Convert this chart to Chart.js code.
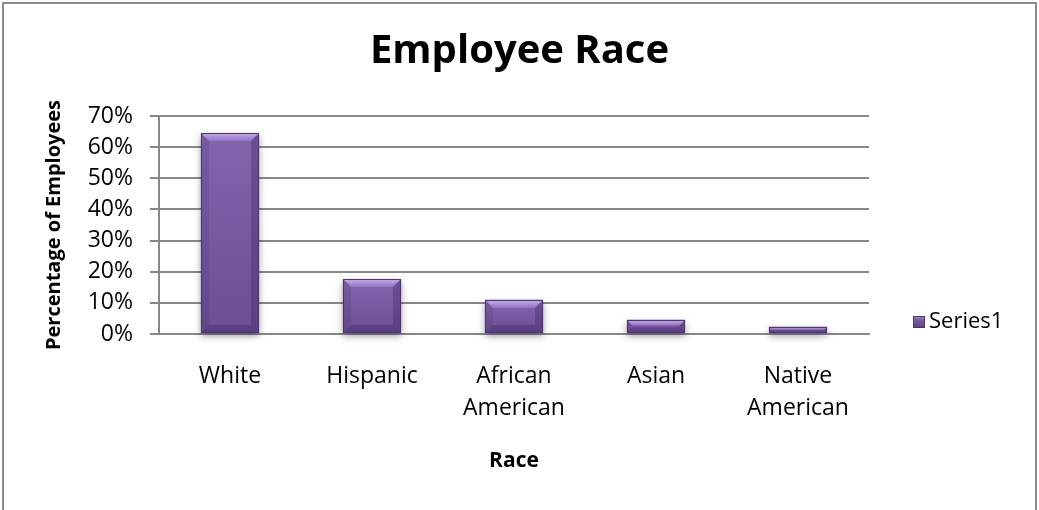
<!DOCTYPE html>
<html>
<head>
<meta charset="utf-8">
<title>Employee Race</title>
<script src="https://cdn.jsdelivr.net/npm/chart.js@4.4.1/dist/chart.umd.min.js"></script>
<style>
  html, body { margin: 0; padding: 0; background: #ffffff; }
  #wrap { width: 1039px; height: 510px; position: relative; }
</style>
</head>
<body>
<div id="wrap"><canvas id="chart" width="1039" height="510"></canvas></div>
<script>
// Share of employees by race, in percent
const categories = ['White', 'Hispanic', ['African', 'American'], 'Asian', ['Native', 'American']];
const series1 = [64.4, 17.7, 11.0, 4.6, 2.3];
const seriesLabel = 'Series1';
const yTickValues = [0, 10, 20, 30, 40, 50, 60, 70];

const FONT = "'Open Sans', 'DejaVu Sans', sans-serif";
const GRID = '#888888';

function poly(ctx, pts, fill) {
  ctx.beginPath();
  ctx.moveTo(pts[0][0], pts[0][1]);
  for (let i = 1; i < pts.length; i++) ctx.lineTo(pts[i][0], pts[i][1]);
  ctx.closePath();
  ctx.fillStyle = fill;
  ctx.fill();
}

// Purple bar with a bevelled rim and soft drop shadow
function bevelBar(ctx, l, t, r, b, withShadow) {
  const w = r - l, h = b - t;
  if (h <= 0 || w <= 0) return;
  const bv = Math.max(1, Math.min(8, h / 2.4, w / 4));
  if (withShadow) {
    ctx.save();
    ctx.shadowColor = 'rgba(0,0,0,0.38)';
    ctx.shadowBlur = 7;
    ctx.shadowOffsetY = 3;
    ctx.fillStyle = '#6e5196';
    ctx.fillRect(l, t, w, h);
    ctx.restore();
  }
  const body = ctx.createLinearGradient(0, t, 0, b);
  body.addColorStop(0, '#8365ae');
  body.addColorStop(1, '#6a4d92');
  ctx.fillStyle = body;
  ctx.fillRect(l, t, w, h);

  const top = ctx.createLinearGradient(0, t, 0, t + bv);
  top.addColorStop(0, '#c6abf3');
  top.addColorStop(1, '#9274c0');
  poly(ctx, [[l, t], [r, t], [r - bv, t + bv], [l + bv, t + bv]], top);
  poly(ctx, [[l, t], [l + bv, t + bv], [l + bv, b - bv], [l, b]], 'rgba(70,45,105,0.18)');
  poly(ctx, [[r, t], [r - bv, t + bv], [r - bv, b - bv], [r, b]], 'rgba(60,35,95,0.32)');
  poly(ctx, [[l, b], [l + bv, b - bv], [r - bv, b - bv], [r, b]], 'rgba(55,30,90,0.32)');

  ctx.strokeStyle = '#4d3670';
  ctx.lineWidth = 1;
  ctx.strokeRect(l + 0.5, t + 0.5, w - 1, h - 1);
}

const pagePlugin = {
  id: 'pageFrame',
  beforeDraw(chart) {
    const ctx = chart.ctx;
    ctx.save();
    ctx.fillStyle = '#ffffff';
    ctx.fillRect(0, 0, chart.width, chart.height);
    ctx.restore();
  },
  afterDraw(chart, args, opts) {
    const ctx = chart.ctx;
    ctx.save();
    ctx.strokeStyle = opts.color;
    ctx.lineWidth = 2;
    ctx.strokeRect(3, 3, chart.width - 6, chart.height + 10);
    ctx.restore();
  }
};

const bevelPlugin = {
  id: 'bevelBars',
  afterDatasetsDraw(chart) {
    const ctx = chart.ctx;
    const meta = chart.getDatasetMeta(0);
    ctx.save();
    meta.data.forEach(el => {
      const p = el.getProps(['x', 'y', 'base', 'width'], true);
      const l = Math.round(p.x - p.width / 2), r = Math.round(p.x + p.width / 2);
      bevelBar(ctx, l, Math.round(p.y), r, Math.round(p.base), true);
    });
    ctx.restore();
  }
};

function bevelSwatch(ctx, x, y, s) {
  const g = ctx.createLinearGradient(0, y, 0, y + s);
  g.addColorStop(0, '#a88ad6');
  g.addColorStop(0.3, '#7d5fa8');
  g.addColorStop(1, '#5c4184');
  ctx.fillStyle = g;
  ctx.fillRect(x, y, s, s);
  ctx.strokeStyle = '#4d3670';
  ctx.lineWidth = 1;
  ctx.strokeRect(x + 0.5, y + 0.5, s - 1, s - 1);
}

const sideLegendPlugin = {
  id: 'sideLegend',
  afterDraw(chart, args, opts) {
    const ctx = chart.ctx;
    const ds = chart.data.datasets[0];
    ctx.save();
    bevelSwatch(ctx, opts.x, opts.y - opts.box / 2, opts.box);
    ctx.fillStyle = '#000000';
    ctx.font = opts.fontSize + 'px ' + FONT;
    ctx.textBaseline = 'middle';
    ctx.textAlign = 'left';
    ctx.fillText(ds.label, opts.x + opts.box + opts.gap, opts.y);
    ctx.restore();
  }
};

new Chart(document.getElementById('chart'), {
  type: 'bar',
  data: {
    labels: categories,
    datasets: [{
      label: seriesLabel,
      data: series1,
      backgroundColor: '#7558a0',
      borderWidth: 0,
      barPercentage: 0.41,
      categoryPercentage: 1.0
    }]
  },
  options: {
    responsive: false,
    animation: false,
    events: [],
    layout: { padding: 0 },
    plugins: {
      legend: { display: false },
      tooltip: { enabled: false },
      title: {
        display: true,
        text: 'Employee Race',
        color: '#000000',
        font: { family: FONT, size: 40, weight: 'bold', lineHeight: 1.2 },
        padding: { top: 28, bottom: 40 }
      },
      pageFrame: { color: '#8c8c8c' },
      sideLegend: { x: 913, y: 322, box: 12, gap: 4, fontSize: 22 }
    },
    scales: {
      x: {
        type: 'category',
        grid: { display: false, drawTicks: false },
        border: { display: true, color: GRID, width: 2 },
        ticks: {
          color: '#000000',
          font: { family: FONT, size: 23, lineHeight: 1.37 },
          padding: 27,
          maxRotation: 0,
          autoSkip: false
        },
        title: {
          display: true,
          text: 'Race',
          color: '#000000',
          font: { family: FONT, size: 21, weight: 'bold', lineHeight: 1.2 },
          padding: { top: 0, bottom: 36 }
        },
        afterFit(scale) { scale.height = 176; }
      },
      y: {
        type: 'linear',
        min: 0,
        max: 70,
        afterBuildTicks(scale) { scale.ticks = yTickValues.map(v => ({ value: v })); },
        grid: { color: GRID, lineWidth: 2, drawTicks: true, tickLength: 9, tickColor: GRID },
        border: { display: true, color: GRID, width: 2 },
        ticks: {
          color: '#000000',
          font: { family: FONT, size: 23 },
          padding: 17,
          callback: v => v + '%'
        },
        title: {
          display: true,
          text: 'Percentage of Employees',
          color: '#000000',
          font: { family: FONT, size: 20, weight: 'bold', lineHeight: 1.2 },
          padding: { top: 42, bottom: 0 }
        },
        afterFit(scale) { scale.width = 159; }
      },
      side: {
        type: 'linear',
        position: 'right',
        display: true,
        grid: { display: false, drawTicks: false },
        border: { display: false },
        ticks: { display: false },
        afterFit(scale) { scale.width = 170; }
      }
    }
  },
  plugins: [pagePlugin, bevelPlugin, sideLegendPlugin]
});
</script>
</body>
</html>
